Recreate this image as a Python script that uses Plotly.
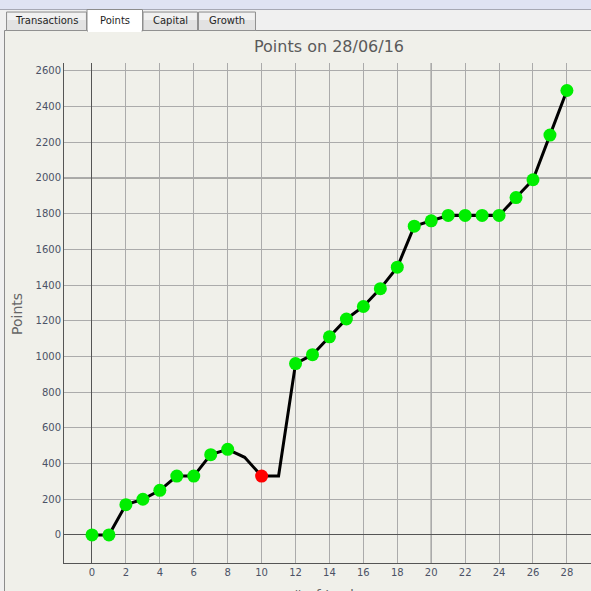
import plotly.graph_objects as go

# ---- data ----
trade_no = list(range(29))
points = [0, 0, 170, 200, 250, 330, 330, 450, 480, 435, 330, 330, 960, 1010, 1110,
          1210, 1280, 1380, 1500, 1730, 1760, 1790, 1790, 1790, 1790, 1890, 1990, 2240, 2490]
# marker kind per point: "g" = green dot, "r" = red dot, "" = no dot
marker_kind = ["g", "g", "g", "g", "g", "g", "g", "g", "g", "", "r", "", "g", "g", "g",
               "g", "g", "g", "g", "g", "g", "g", "g", "g", "g", "g", "g", "g", "g"]
x_ticks = list(range(0, 29, 2))
y_ticks = list(range(0, 2601, 200))
major_x = [20]
major_y = [2000]
tabs = ["Transactions", "Points", "Capital", "Growth"]
title_text = "Points on 28/06/16"
y_title = "Points"
x_title = "# of trades"

W, H = 591, 591
L, R, T, B = 64, 0, 63, 28
PW, PH = W - L - R, H - T - B


def px(x):
    return (x - L) / PW


def py(y):
    return (H - B - y) / PH


FONT = "DejaVu Sans"
fig = go.Figure()

fig.add_trace(go.Scatter(x=trade_no, y=points, mode="lines",
                         line=dict(color="black", width=3), hoverinfo="skip",
                         showlegend=False))
gx = [x for x, k in zip(trade_no, marker_kind) if k == "g"]
gy = [y for y, k in zip(points, marker_kind) if k == "g"]
rx = [x for x, k in zip(trade_no, marker_kind) if k == "r"]
ry = [y for y, k in zip(points, marker_kind) if k == "r"]
fig.add_trace(go.Scatter(x=gx, y=gy, mode="markers",
                         marker=dict(color="#00ee00", size=13, line=dict(width=0)),
                         showlegend=False))
fig.add_trace(go.Scatter(x=rx, y=ry, mode="markers",
                         marker=dict(color="#ff0000", size=13, line=dict(width=0)),
                         showlegend=False))

shapes = []
# window chrome: top band and tab strip
shapes.append(dict(type="rect", xref="paper", yref="paper", x0=px(0), x1=px(W), y0=py(0), y1=py(9.5),
                   fillcolor="#dfe3f3", line=dict(width=0), layer="below"))
shapes.append(dict(type="line", xref="paper", yref="paper", x0=px(0), x1=px(W), y0=py(9.5), y1=py(9.5),
                   line=dict(color="#a6a8b4", width=1), layer="below"))
shapes.append(dict(type="rect", xref="paper", yref="paper", x0=px(0), x1=px(W), y0=py(10), y1=py(30.5),
                   fillcolor="#f0f0f0", line=dict(width=0), layer="below"))
shapes.append(dict(type="rect", xref="paper", yref="paper", x0=px(0), x1=px(4), y0=py(30), y1=py(H),
                   fillcolor="#f0f0f0", line=dict(width=0), layer="below"))
# panel border
shapes.append(dict(type="line", xref="paper", yref="paper", x0=px(4.5), x1=px(W), y0=py(30.5), y1=py(30.5),
                   line=dict(color="#8c8c8c", width=1), layer="below"))
shapes.append(dict(type="line", xref="paper", yref="paper", x0=px(4.5), x1=px(4.5), y0=py(30.5), y1=py(H),
                   line=dict(color="#8c8c8c", width=1), layer="below"))

tab_x = [(6.5, 86.5), (87, 142.5), (143, 197.5), (198.5, 255.5)]
annotations = []
for i, (name, (a, b)) in enumerate(zip(tabs, tab_x)):
    sel = name == "Points"
    top = 9.5 if sel else 12
    bot = 31 if sel else 30.5
    if sel:
        shapes.append(dict(type="rect", xref="paper", yref="paper", x0=px(a), x1=px(b), y0=py(top), y1=py(bot),
                           fillcolor="#ffffff", line=dict(color="#8c8c8c", width=1), layer="below"))
        shapes.append(dict(type="line", xref="paper", yref="paper", x0=px(a + 1), x1=px(b - 1), y0=py(bot), y1=py(bot),
                           line=dict(color="#ffffff", width=2), layer="below"))
    else:
        shapes.append(dict(type="rect", xref="paper", yref="paper", x0=px(a), x1=px(b), y0=py(top), y1=py(bot),
                           fillcolor="#e2e2e2", line=dict(color="#919191", width=1), layer="below"))
        shapes.append(dict(type="rect", xref="paper", yref="paper", x0=px(a + 1), x1=px(b - 1), y0=py(top + 1), y1=py(20),
                           fillcolor="#f1f1f1", line=dict(width=0), layer="below"))
    annotations.append(dict(text=name, xref="paper", yref="paper", x=px((a + b) / 2), y=py(21),
                            xanchor="center", yanchor="middle", showarrow=False,
                            font=dict(family=FONT, size=10, color="#1e1e1e")))

# darker major grid lines
for v in major_x:
    shapes.append(dict(type="line", xref="x", yref="paper", x0=v, x1=v, y0=0, y1=1,
                       line=dict(color="#555555", width=1), layer="between"))
for v in major_y:
    shapes.append(dict(type="line", xref="paper", yref="y", x0=0, x1=1, y0=v, y1=v,
                       line=dict(color="#555555", width=1), layer="between"))

annotations.append(dict(text=title_text, xref="paper", yref="paper", x=px(329), y=py(47),
                        xanchor="center", yanchor="middle", showarrow=False,
                        font=dict(family=FONT, size=16, color="#5a5a5a")))
annotations.append(dict(text=y_title, xref="paper", yref="paper", x=px(17), y=py(314),
                        xanchor="center", yanchor="middle", showarrow=False, textangle=-90,
                        font=dict(family=FONT, size=14, color="#666666")))
annotations.append(dict(text=x_title, xref="paper", yref="paper", x=px(330), y=py(585),
                        xanchor="center", yanchor="top", showarrow=False,
                        font=dict(family=FONT, size=14, color="#666666")))

fig.update_layout(
    width=W, height=H, autosize=False,
    margin=dict(l=L, r=R, t=T, b=B, pad=0),
    paper_bgcolor="#f0f0ea", plot_bgcolor="#f0f0ea",
    shapes=shapes, annotations=annotations,
    showlegend=False,
    xaxis=dict(range=[-1.65, 29.42], tickvals=x_ticks, ticktext=[str(v) for v in x_ticks],
               showgrid=True, gridcolor="#ababab", gridwidth=1,
               zeroline=True, zerolinecolor="#555555", zerolinewidth=1,
               showline=True, linecolor="#555555", linewidth=1, ticks="",
               tickfont=dict(family=FONT, size=10, color="#4b5266"), fixedrange=True),
    yaxis=dict(range=[-157, 2644], tickvals=y_ticks, ticktext=[str(v) for v in y_ticks],
               showgrid=True, gridcolor="#ababab", gridwidth=1,
               zeroline=True, zerolinecolor="#555555", zerolinewidth=1,
               showline=True, linecolor="#555555", linewidth=1, ticks="",
               tickfont=dict(family=FONT, size=10, color="#4b5266"), fixedrange=True),
)

fig.write_html("out.html", config={"displayModeBar": False},
               post_script="document.body.style.margin='0';document.body.style.overflow='hidden';")
